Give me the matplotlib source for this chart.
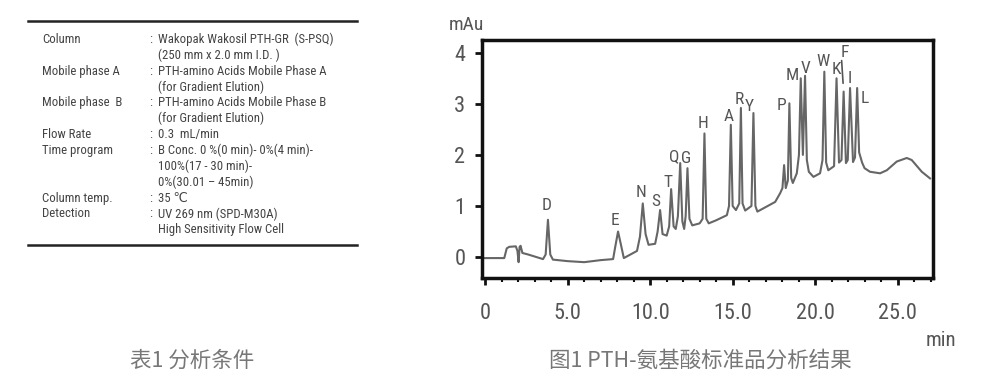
import matplotlib
matplotlib.use("Agg")
import matplotlib.pyplot as plt
from matplotlib import font_manager as fm
from matplotlib.lines import Line2D

# ---------- Data ----------
# chromatogram trace vertices: time (min) and absorbance (mAu)
time_min = [-0.1, 1.15, 1.3, 1.45, 1.85, 1.95, 2.02, 2.08, 2.14, 2.25, 2.6, 3.1, 3.5,
            3.66, 3.8, 3.94, 4.1, 5.0, 6.0, 7.0, 7.75, 7.88, 8.05, 8.22, 8.4, 8.8,
            9.2, 9.38, 9.55, 9.72, 9.9, 10.3, 10.45, 10.6, 10.75, 11.0, 11.15, 11.27,
            11.42, 11.55, 11.68, 11.82, 11.95, 12.06, 12.15, 12.26, 12.38, 12.55,
            13.0, 13.18, 13.29, 13.4, 13.55, 14.0, 14.65, 14.78, 14.89, 15.0, 15.2,
            15.4, 15.5, 15.6, 15.76, 16.14, 16.26, 16.38, 16.5, 17.07, 17.58, 17.88,
            18.02, 18.12, 18.22, 18.35, 18.44, 18.55, 18.65, 18.89, 19.02, 19.13,
            19.26, 19.39, 19.5, 19.62, 19.9, 20.3, 20.45, 20.56, 20.67, 20.8, 21.15,
            21.3, 21.45, 21.6, 21.73, 21.87, 21.98, 22.12, 22.3, 22.42, 22.55, 22.67,
            22.85, 23.0, 23.33, 23.94, 24.35, 24.95, 25.56, 25.86, 26.47, 26.97]
signal_mau = [-0.02, -0.02, 0.17, 0.2, 0.21, 0.12, -0.1, 0.2, 0.22, 0.08, 0.05, 0.0, -0.04,
              0.05, 0.73, 0.05, -0.05, -0.08, -0.1, -0.06, -0.04, 0.2, 0.5, 0.25, -0.02, 0.05,
              0.12, 0.4, 1.05, 0.45, 0.24, 0.26, 0.5, 0.92, 0.45, 0.42, 0.6, 1.33,
              0.6, 0.55, 0.8, 1.84, 0.7, 0.55, 0.8, 1.74, 0.75, 0.62,
              0.66, 0.75, 2.42, 0.75, 0.66, 0.72, 0.82, 1.0, 2.59, 1.0, 0.92,
              1.05, 2.92, 1.05, 0.91, 1.0, 2.82, 1.0, 0.89, 0.99, 1.08, 1.25,
              1.35, 1.8, 1.35, 1.5, 3.01, 1.55, 1.45, 1.64, 2.0, 3.5,
              2.0, 3.55, 1.9, 1.67, 1.57, 1.64, 1.9, 3.63, 1.85, 1.7, 1.78,
              3.5, 1.85, 1.9, 3.24, 1.84, 1.9, 3.31, 1.86, 1.95, 3.31, 2.05,
              1.85, 1.74, 1.67, 1.64, 1.7, 1.87, 1.94, 1.9, 1.67, 1.54]

# labelled peaks (PTH-amino acids)
peak_labels = ["D", "E", "N", "S", "T", "Q", "G", "H", "A", "R", "Y",
               "P", "M", "V", "W", "K", "F", "I", "L"]
peak_times = [3.8, 8.05, 9.55, 10.6, 11.27, 11.82, 12.26, 13.29, 14.89, 15.5, 16.26,
              18.44, 19.13, 19.39, 20.56, 21.3, 21.73, 22.12, 22.55]
peak_heights = [0.73, 0.5, 1.05, 0.92, 1.33, 1.84, 1.74, 2.42, 2.59, 2.92, 2.82,
                3.01, 3.5, 3.55, 3.63, 3.5, 3.24, 3.31, 3.31]

y_ticks = [0, 1, 2, 3, 4]
x_ticks = [0, 5, 10, 15, 20, 25]
x_ticklabels = ["0", "5.0", "10.0", "15.0", "20.0", "25.0"]

# analysis conditions table
table_params = ["Column", "", "Mobile phase A", "", "Mobile phase  B", "", "Flow Rate",
                "Time program", "", "", "Column temp.", "Detection", ""]
table_values = ["Wakopak Wakosil PTH-GR  (S-PSQ)", "(250 mm x 2.0 mm I.D. )",
                "PTH-amino Acids Mobile Phase A", "(for Gradient Elution)",
                "PTH-amino Acids Mobile Phase B", "(for Gradient Elution)",
                "0.3  mL/min", "B Conc. 0 %(0 min)- 0%(4 min)-", "100%(17 - 30 min)-",
                "0%(30.01 \u2013 45min)", "35 \u2103", "UV 269 nm (SPD-M30A)",
                "High Sensitivity Flow Cell"]

# ---------- Fonts: prefer a narrow face, otherwise shrink a regular one ----------
W, H = 983, 391
entries = fm.fontManager.ttflist
names = {f.name for f in entries}
NARROW, STRETCH, K = "Liberation Sans", "normal", 0.86
for cand, k in [("Liberation Sans Narrow", 1.0), ("Roboto Condensed", 1.0),
                ("Noto Sans Condensed", 0.97), ("Open Sans Condensed", 1.0)]:
    if cand in names:
        NARROW, K = cand, k
        break
else:
    if any(f.name == "Noto Sans" and f.stretch == "condensed" for f in entries):
        NARROW, STRETCH, K = "Noto Sans", "condensed", 0.97
FAM = [NARROW, "DejaVu Sans"]
CJK = ["Noto Sans CJK SC", "DejaVu Sans"]
TXT = dict(family=FAM, stretch=STRETCH)

# pixel offsets (dx, dy) of each peak label from its apex
label_offsets = {"D": (-1, 14), "E": (-3, 11), "N": (-2, 11), "S": (-4, 9), "T": (-3, 7),
                 "Q": (-6, 6), "G": (-1, 10), "H": (-1, 10), "A": (-2, 8), "R": (-2, 8),
                 "Y": (-4, 7), "P": (-8, -2), "M": (-9, 3), "V": (0, 7), "W": (-1, 10),
                 "K": (0, 9), "F": (1, 39), "I": (0, 10), "L": (8, -10)}


def fx(px):
    return px / W


def fy(py):
    return 1 - py / H


fig = plt.figure(figsize=(W / 100, H / 100), dpi=100)

# ---------- Table (left) ----------
fig.add_artist(Line2D([fx(28), fx(357)], [fy(20.5)] * 2, lw=1.8, color="#222"))
fig.add_artist(Line2D([fx(28), fx(357)], [fy(244.5)] * 2, lw=1.8, color="#222"))
for i, (p, v) in enumerate(zip(table_params, table_values)):
    y = fy(39.5 + i * 15.85)
    if p:
        fig.text(fx(42), y, p, va="center", fontsize=9.2 * K, color="#444", **TXT)
        fig.text(fx(149), y, ":", va="center", fontsize=9.2 * K, color="#444", **TXT)
    fig.text(fx(158), y, v, va="center", fontsize=9.2 * K, color="#444", **TXT)

fig.text(fx(192), fy(361), "表1 分析条件", ha="center", va="center",
         fontsize=15.5, color="#777", family=CJK)

# ---------- Chromatogram (right) ----------
ax = fig.add_axes([fx(482), fy(278), fx(933) - fx(482), fy(40) - fy(278)])
ax.plot(time_min, signal_mau, color="#666", lw=1.5, solid_joinstyle="round")
ax.set_xlim(-0.2, 27.15)
ax.set_ylim(-0.41, 4.25)

for s in ax.spines.values():
    s.set_linewidth(2.5)
    s.set_color("#111")

ax.set_yticks(y_ticks)
ax.set_yticklabels([str(v) for v in y_ticks])
ax.set_xticks(x_ticks)
ax.set_xticklabels(x_ticklabels)
ax.set_xticks(range(0, 28), minor=True)
ax.tick_params(axis="both", which="major", length=5, width=2, color="#111",
               labelcolor="#555", labelsize=16 * K)
ax.tick_params(axis="y", pad=7)
ax.tick_params(axis="x", pad=13)
ax.tick_params(axis="x", which="minor", length=3, width=1.5, color="#111")
for lab in ax.get_xticklabels() + ax.get_yticklabels():
    lab.set_family(FAM)
    lab.set_stretch(STRETCH)

for lbl, t, h in zip(peak_labels, peak_times, peak_heights):
    dx, dy = label_offsets[lbl]
    ax.annotate(lbl, (t, h), xytext=(dx, dy), textcoords="offset pixels",
                ha="center", va="center", fontsize=12.5 * K, color="#555", **TXT)
# stem under the F label
fi = peak_labels.index("F")
ax.annotate("", (peak_times[fi], peak_heights[fi]), xytext=(-2, 31), textcoords="offset pixels",
            arrowprops=dict(arrowstyle="-", color="#555", lw=1.2, shrinkA=0, shrinkB=6))

fig.text(fx(466), fy(25), "mAu", ha="center", va="center", fontsize=14 * K, color="#555", **TXT)
fig.text(fx(941), fy(341), "min", ha="center", va="center", fontsize=15 * K, color="#555", **TXT)
fig.text(fx(700), fy(361), "图1 PTH-氨基酸标准品分析结果", ha="center", va="center",
         fontsize=15.5, color="#777", family=CJK)

fig.savefig("out.png", dpi=100)
